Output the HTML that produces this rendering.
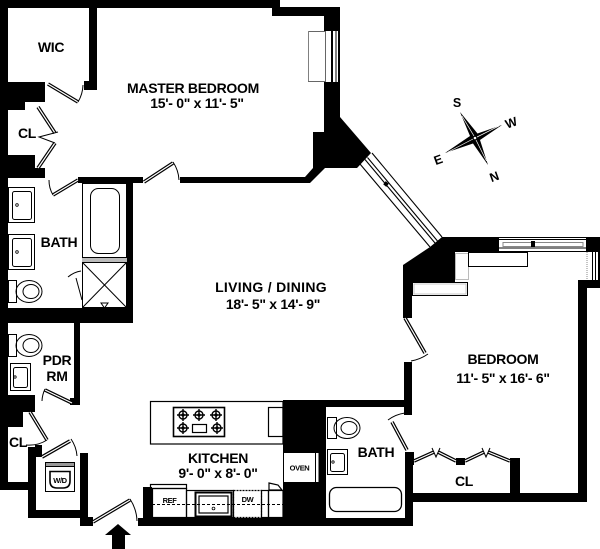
<!DOCTYPE html>
<html><head><meta charset="utf-8"><style>
html,body{margin:0;padding:0;background:#fff;}
svg{display:block;}
text{font-family:"Liberation Sans",Arial,sans-serif;font-weight:bold;fill:#000;}
</style></head><body>
<svg width="600" height="549" viewBox="0 0 600 549" xmlns="http://www.w3.org/2000/svg">
<rect width="600" height="549" fill="#fff"/>

<!-- ===== WALLS ===== -->
<g fill="#000">
 <rect x="0" y="0" width="280" height="8"/>
 <rect x="272" y="7" width="68" height="9"/>
 <polygon points="324,8 340,8 340,117 371,153 358,167 357,168 325,168 310,183 180,183 180,177 305,177 313,168 313,132 324,132"/>
 <rect x="0" y="0" width="8" height="490"/>
 <rect x="89" y="8" width="8" height="82"/>
 <rect x="84" y="81" width="13" height="9"/>
 <rect x="0" y="82" width="45" height="20"/>
 <rect x="0" y="100" width="25" height="10"/>
 <rect x="0" y="155" width="35" height="15"/>
 <rect x="0" y="168" width="45" height="10"/>
 <rect x="78" y="177" width="65" height="6"/>
 <rect x="127" y="177" width="6" height="146"/>
 <rect x="0" y="308" width="133" height="15"/>
 <rect x="74" y="323" width="6" height="80"/>
 <rect x="0" y="395" width="35" height="17"/>
 <rect x="70" y="398" width="10" height="7"/>
 <rect x="0" y="411" width="23" height="16"/>
 <rect x="0" y="482" width="28" height="8"/>
 <rect x="28" y="447" width="8" height="71"/>
 <rect x="35" y="445" width="7" height="12"/>
 <rect x="28" y="510" width="60" height="8"/>
 <rect x="80" y="453" width="8" height="65"/>
 <rect x="80" y="517" width="13" height="9"/>
 <!-- kitchen / bottom -->
 <rect x="143" y="487" width="9" height="31"/>
 <rect x="138" y="518" width="275" height="8"/>
 <rect x="283" y="400" width="43" height="125"/>
 <rect x="283" y="400" width="122" height="7"/>
 <rect x="405" y="452" width="8" height="73"/>
 <rect x="404" y="362" width="8" height="53"/>
 <!-- bedroom -->
 <polygon points="442,237 499,237 499,252 455,252 455,282 412,282 412,318 403,318 403,265 430,247"/>
 <rect x="499" y="237" width="101" height="15"/>
 <rect x="578" y="280" width="9" height="222"/>
 <rect x="578" y="280" width="22" height="8" />
 <rect x="410" y="493" width="177" height="9"/>
 <rect x="456" y="458" width="9" height="7"/>
 <rect x="510" y="458" width="10" height="35"/>
 <rect x="405" y="452" width="9" height="13"/>
</g>

<!-- top right window -->
<rect x="499" y="238" width="87" height="13" fill="#fff"/>
<line x1="499" y1="239.5" x2="586" y2="239.5" stroke="#000" stroke-width="1"/>
<rect x="503" y="242.5" width="80" height="4" fill="#fff" stroke="#888" stroke-width="1"/>
<rect x="531" y="241" width="4" height="6" fill="#000"/>
<line x1="499" y1="248" x2="586" y2="248" stroke="#000" stroke-width="1"/>
<!-- right side window -->
<rect x="586" y="252" width="14" height="28" fill="#fff"/>
<line x1="587" y1="252" x2="587" y2="280" stroke="#888" stroke-dasharray="1,1"/>
<line x1="592.5" y1="252" x2="592.5" y2="280" stroke="#000"/>
<line x1="595.5" y1="252" x2="595.5" y2="280" stroke="#000"/>
<rect x="598" y="252" width="2" height="28" fill="#000"/>

<!-- master window -->
<rect x="325" y="31" width="14" height="51" fill="#fff"/>
<rect x="308.5" y="31.5" width="17" height="50" fill="#fff" stroke="#666" stroke-width="1"/>
<line x1="308.5" y1="31.5" x2="308.5" y2="81.5" stroke="#999" stroke-dasharray="1,1"/>
<rect x="331" y="31" width="2" height="51" fill="#000"/>
<line x1="336" y1="31" x2="336" y2="82" stroke="#000"/>
<line x1="338.5" y1="31" x2="338.5" y2="82" stroke="#000"/>

<!-- diagonal window -->
<g stroke="#000" stroke-width="1.1" fill="none">
 <line x1="360" y1="164" x2="430" y2="247"/>
 <line x1="365" y1="159.5" x2="435" y2="243"/>
 <line x1="367.5" y1="157.5" x2="437.5" y2="241"/>
 <line x1="372" y1="153" x2="442" y2="237"/>
</g>
<rect x="384" y="182" width="4" height="4" fill="#000" transform="rotate(40 386 184)"/>

<!-- bedroom interior rects -->
<rect x="455.5" y="253.5" width="13" height="26" fill="#fff" stroke="#777" stroke-width="1" stroke-dasharray="1,1"/>
<rect x="468.5" y="252.5" width="59" height="14" fill="#fff" stroke="#000" stroke-width="1"/>
<rect x="412.5" y="282.5" width="55" height="13" fill="#fff" stroke="#000" stroke-width="1"/>
<rect x="414" y="284" width="52" height="10" fill="none" stroke="#bbb" stroke-width="0.8"/>

<!-- ===== DOORS ===== -->
<g stroke-linecap="butt">
 <g stroke="#000" stroke-width="3.6">
  <line x1="48" y1="84" x2="78" y2="102"/>
  <line x1="38" y1="107" x2="55" y2="133"/>
  <line x1="55" y1="143" x2="38" y2="168"/>
  <line x1="78" y1="180" x2="53" y2="195"/>
  <line x1="144" y1="182" x2="173" y2="163"/>
  <line x1="72" y1="403" x2="45" y2="390"/>
  <line x1="30" y1="412" x2="47" y2="440"/>
  <line x1="42" y1="457" x2="70" y2="441"/>
  <line x1="93" y1="522" x2="130" y2="500"/>
  <line x1="405" y1="318" x2="425" y2="353"/>
  <line x1="407" y1="450" x2="392" y2="422"/>
  <line x1="414" y1="461" x2="434" y2="452"/>
  <line x1="438" y1="452" x2="456" y2="461"/>
  <line x1="465" y1="461" x2="484" y2="452"/>
  <line x1="488" y1="452" x2="510" y2="461"/>
 </g>
 <g stroke="#fff" stroke-width="1.2">
  <line x1="48" y1="84" x2="78" y2="102"/>
  <line x1="38" y1="107" x2="55" y2="133"/>
  <line x1="55" y1="143" x2="38" y2="168"/>
  <line x1="78" y1="180" x2="53" y2="195"/>
  <line x1="144" y1="182" x2="173" y2="163"/>
  <line x1="72" y1="403" x2="45" y2="390"/>
  <line x1="30" y1="412" x2="47" y2="440"/>
  <line x1="42" y1="457" x2="70" y2="441"/>
  <line x1="93" y1="522" x2="130" y2="500"/>
  <line x1="405" y1="318" x2="425" y2="353"/>
  <line x1="407" y1="450" x2="392" y2="422"/>
  <line x1="414" y1="461" x2="434" y2="452"/>
  <line x1="438" y1="452" x2="456" y2="461"/>
  <line x1="465" y1="461" x2="484" y2="452"/>
  <line x1="488" y1="452" x2="510" y2="461"/>
 </g>
 <g stroke="#000" stroke-width="1" fill="none">
  <path d="M78,102 A35,35 0 0 0 83,85"/>
  <path d="M53,195 A29,29 0 0 1 49,180"/>
  <path d="M173,162 A35,35 0 0 1 179,180"/>
  <path d="M45,389 A30,30 0 0 0 42,401"/>
  <path d="M47,440 A33,33 0 0 1 26,445"/>
  <path d="M71,439 A34,34 0 0 1 77,456"/>
  <path d="M130,499 A43,43 0 0 1 137,521"/>
  <path d="M428,354 A42,42 0 0 1 411,361"/>
  <path d="M388,420 A37,37 0 0 1 405,413"/>
  <polyline points="58,132 39,137 55,143"/>
  <polyline points="432,448 436,457 440,448"/>
  <polyline points="482,448 486,457 490,448"/>
  <path d="M68,277 Q74,272 81,271"/>
  <line x1="76" y1="278" x2="82" y2="300"/>
 </g>
</g>

<!-- ===== MASTER BATH FIXTURES ===== -->
<g stroke="#000" stroke-width="1" fill="none">
 <rect x="8.5" y="187.5" width="26" height="35"/>
 <rect x="12.5" y="191.5" width="19" height="28" rx="2"/>
 <rect x="8.5" y="234.5" width="26" height="35"/>
 <rect x="12.5" y="238.5" width="19" height="28" rx="2"/>
 <rect x="82.5" y="183.5" width="44" height="74"/>
 <rect x="90.5" y="188.5" width="29" height="65" rx="8"/>
 <rect x="82.5" y="262.5" width="44" height="45"/>
 <line x1="82.5" y1="262.5" x2="126.5" y2="307.5"/>
 <line x1="126.5" y1="262.5" x2="82.5" y2="307.5"/>
 <polygon points="101,303 108,303 104.5,308"/>
 <!-- toilet -->
 <rect x="8.5" y="280.5" width="8" height="22"/>
 <ellipse cx="29" cy="291.5" rx="13" ry="11"/>
 <ellipse cx="31" cy="291.5" rx="8" ry="7"/>
</g>
<rect x="82" y="258" width="45" height="4" fill="#bbb"/>
<circle cx="17" cy="205" r="1.3" fill="none" stroke="#000" stroke-width="0.8"/>
<circle cx="17" cy="252" r="1.3" fill="none" stroke="#000" stroke-width="0.8"/>

<!-- PDR fixtures -->
<g stroke="#000" stroke-width="1" fill="none">
 <rect x="8.5" y="334.5" width="8" height="22"/>
 <ellipse cx="29" cy="345.5" rx="13" ry="11"/>
 <ellipse cx="31" cy="345.5" rx="8" ry="7"/>
 <rect x="10.5" y="363.5" width="20" height="27"/>
 <rect x="13.5" y="367.5" width="14" height="20" rx="2"/>
</g>
<circle cx="15" cy="377" r="1.2" fill="none" stroke="#000" stroke-width="0.8"/>

<!-- W/D -->
<g stroke="#000" fill="none">
 <rect x="45.5" y="462.5" width="29" height="29" stroke-width="1"/>
 <rect x="45.5" y="462.5" width="29" height="4" fill="#999" stroke-width="1"/>
 <path d="M50,471.5 H70 V481 Q70,488 63,488 H57 Q50,488 50,481 Z" stroke-width="1.6"/>
</g>

<!-- ===== KITCHEN ===== -->
<g stroke="#000" fill="none" stroke-width="1.2">
 <rect x="150.5" y="401.5" width="132.5" height="42.5"/>
 <rect x="173.5" y="407.5" width="51" height="29" stroke-width="1.6"/>
 <rect x="268.5" y="407.5" width="14.5" height="29"/>
 <rect x="192.5" y="424.5" width="14" height="8"/>
 <!-- bottom counter -->
 <rect x="150.5" y="484.5" width="36" height="4"/>
 <rect x="152.5" y="488.5" width="34" height="29"/>
 <rect x="186.5" y="490.5" width="47" height="27"/>
 <rect x="195.5" y="492.5" width="36" height="24" stroke-width="2"/>
 <rect x="199" y="496" width="29" height="17"/>
 <rect x="233.5" y="490.5" width="28" height="27" stroke-dasharray="2,1"/>
 <rect x="261.5" y="490.5" width="7" height="27"/>
 <rect x="268.5" y="490.5" width="14.5" height="27"/>
 <polygon points="269,483 278,485 282,490 269,490"/>
</g>
<line x1="152" y1="504.5" x2="283" y2="504.5" stroke="#000" stroke-width="1" stroke-dasharray="3,2"/>
<circle cx="213.5" cy="508.5" r="1.4" fill="none" stroke="#000" stroke-width="0.8"/>
<!-- burners -->
<g stroke="#000" stroke-width="1.4" fill="none">
 <circle cx="183" cy="415" r="4"/><circle cx="199" cy="415" r="4"/><circle cx="216" cy="415" r="4"/>
 <circle cx="183" cy="428" r="4"/><circle cx="217" cy="428" r="4"/>
 <path d="M177,415h12M183,409v12M193,415h12M199,409v12M210,415h12M216,409v12M177,428h12M183,422v12M211,428h12M217,422v12"/>
</g>
<g fill="#000">
 <circle cx="183" cy="415" r="1.6"/><circle cx="199" cy="415" r="1.6"/><circle cx="216" cy="415" r="1.6"/>
 <circle cx="183" cy="428" r="1.6"/><circle cx="217" cy="428" r="1.6"/>
</g>
<!-- oven -->
<rect x="283.5" y="452.5" width="32" height="30" fill="#fff" stroke="#000" stroke-width="1"/>
<rect x="315.5" y="452.5" width="3.5" height="30" fill="#fff" stroke="#000" stroke-width="1"/>

<!-- small bath fixtures -->
<g stroke="#000" stroke-width="1" fill="none">
 <rect x="327.5" y="417.5" width="9" height="21"/>
 <ellipse cx="347" cy="428" rx="13" ry="10.5"/>
 <ellipse cx="349" cy="428" rx="8" ry="6.5"/>
 <rect x="327.5" y="449.5" width="20" height="25"/>
 <rect x="330.5" y="453.5" width="14" height="18" rx="2"/>
 <rect x="329.5" y="487.5" width="72" height="24" rx="7" stroke-width="1.3"/>
</g>
<circle cx="333" cy="462" r="1.2" fill="none" stroke="#000" stroke-width="0.8"/>

<!-- entry arrow -->
<polygon points="105,535 131,535 118,524" fill="#000"/>
<rect x="112" y="534" width="13" height="15" fill="#000"/>

<!-- compass -->
<polygon points="460,112 477.5,133.5 502,125 480,140 488,165 473,143.5 445,153 470,136" fill="#000"/>
<g stroke="#fff" stroke-width="0.7">
 <line x1="462" y1="116" x2="474" y2="136"/>
 <line x1="499" y1="126" x2="477" y2="137"/>
 <line x1="486.5" y1="161" x2="476" y2="140"/>
 <line x1="448" y1="152" x2="473" y2="139"/>
</g>
<circle cx="475" cy="138" r="1.3" fill="#fff"/>
<text x="457" y="107" font-size="12.5" text-anchor="middle">S</text>
<text x="511" y="127" font-size="12.5" text-anchor="middle" transform="rotate(-20 511 122)">W</text>
<text x="438" y="164" font-size="12.5" text-anchor="middle" transform="rotate(-20 438 159)">E</text>
<text x="494" y="181" font-size="12.5" text-anchor="middle" transform="rotate(-20 494 176)">N</text>

<!-- ===== LABELS ===== -->
<g text-anchor="middle" font-size="14" letter-spacing="-0.3">
 <text x="51" y="52">WIC</text>
 <text x="193" y="93">MASTER BEDROOM</text>
 <text x="197" y="108">15'- 0" x 11'- 5"</text>
 <text x="27" y="138">CL</text>
 <text x="59" y="247">BATH</text>
 <text x="271" y="292" letter-spacing="0.3">LIVING / DINING</text>
 <text x="273" y="309">18'- 5" x 14'- 9"</text>
 <text x="57" y="365">PDR</text>
 <text x="57" y="381">RM</text>
 <text x="503" y="364">BEDROOM</text>
 <text x="503" y="383">11'- 5" x 16'- 6"</text>
 <text x="18" y="447">CL</text>
 <text x="218" y="463">KITCHEN</text>
 <text x="218" y="478">9'- 0" x 8'- 0"</text>
 <text x="376" y="457">BATH</text>
 <text x="464" y="486">CL</text>
</g>
<g text-anchor="middle" font-size="7.5" letter-spacing="-0.4">
 <text x="299.5" y="470.5">OVEN</text>
 <text x="169.5" y="503">REF</text>
 <text x="247.5" y="502">DW</text>
 <text x="60" y="483">W/D</text>
</g>
</svg>
</body></html>
